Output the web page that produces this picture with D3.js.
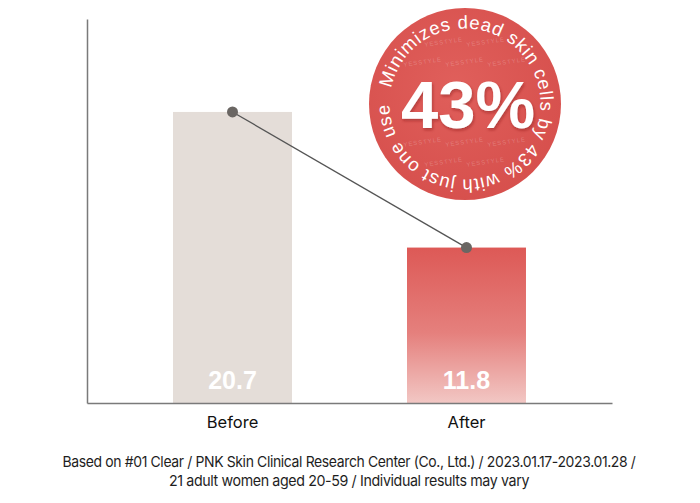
<!DOCTYPE html>
<html>
<head>
<meta charset="utf-8">
<script src="https://cdn.jsdelivr.net/npm/d3@7"></script>
<style>
  html, body { margin: 0; padding: 0; background: #fff; }
  svg { display: block; }
</style>
</head>
<body>
<svg id="chart" width="700" height="503"></svg>
<script>
// ---- data ----
const categories = ["Before", "After"];
const values = [20.7, 11.8];
const valueLabels = ["20.7", "11.8"];
const badgeValue = "43%";
const badgeText = "Minimizes dead skin cells by 43% with just one use";
const footnoteLines = [
  "Based on #01 Clear / PNK Skin Clinical Research Center (Co., Ltd.) / 2023.01.17-2023.01.28 /",
  "21 adult women aged 20-59 / Individual results may vary"
];

// ---- layout ----
const axisLeft = 87, axisRight = 612, axisTop = 19, baseline = 403;

const svg = d3.select("#chart");
const defs = svg.append("defs");

const afterGrad = defs.append("linearGradient").attr("id", "afterGrad")
  .attr("x1", 0).attr("y1", 0).attr("x2", 0).attr("y2", 1);
afterGrad.append("stop").attr("offset", "0%").attr("stop-color", "#dd5956");
afterGrad.append("stop").attr("offset", "55%").attr("stop-color", "#e5807d");
afterGrad.append("stop").attr("offset", "100%").attr("stop-color", "#f2c7c4");

const badgeGrad = defs.append("radialGradient").attr("id", "badgeGrad")
  .attr("cx", "45%").attr("cy", "40%").attr("r", "65%");
badgeGrad.append("stop").attr("offset", "0%").attr("stop-color", "#e05f5b");
badgeGrad.append("stop").attr("offset", "100%").attr("stop-color", "#d64f4c");

const shadow = defs.append("filter").attr("id", "txtShadow")
  .attr("x", "-20%").attr("y", "-20%").attr("width", "140%").attr("height", "140%");
shadow.append("feDropShadow").attr("dx", 1).attr("dy", 2).attr("stdDeviation", 1.5)
  .attr("flood-color", "#7a1f1d").attr("flood-opacity", 0.45);

// scales
const x = d3.scaleBand().domain(categories).range([axisLeft, axisRight])
  .paddingInner(0.4915).paddingOuter(0.3676);
const y = d3.scaleLinear().domain([1.6, 26.8]).range([baseline, axisTop]);

// bars
const barFills = ["#e4ddd8", "url(#afterGrad)"];
svg.selectAll("rect.bar").data(categories).join("rect")
  .attr("class", "bar")
  .attr("x", d => x(d))
  .attr("width", x.bandwidth())
  .attr("y", (d, i) => y(values[i]))
  .attr("height", (d, i) => baseline - y(values[i]))
  .attr("fill", (d, i) => barFills[i]);

// value labels inside bars
svg.selectAll("text.val").data(categories).join("text")
  .attr("class", "val")
  .attr("x", d => x(d) + x.bandwidth() / 2)
  .attr("y", baseline - 14)
  .attr("text-anchor", "middle")
  .attr("font-family", "Liberation Sans, Arial, sans-serif")
  .attr("font-weight", "bold")
  .attr("font-size", 25)
  .attr("fill", "#ffffff")
  .text((d, i) => valueLabels[i]);

// axes (vertical + baseline)
const yAxis = d3.axisLeft(y).tickValues([]).tickSizeOuter(0);
svg.append("g").attr("transform", `translate(${axisLeft},0)`).call(yAxis)
  .call(g => g.select(".domain").attr("stroke", "#7a7a7a").attr("stroke-width", 1.5));
const xAxis = d3.axisBottom(x).tickSize(0).tickSizeOuter(0);
const xg = svg.append("g").attr("transform", `translate(0,${baseline})`).call(xAxis);
xg.select(".domain").attr("stroke", "#7a7a7a").attr("stroke-width", 1.5);
xg.selectAll("text")
  .attr("dy", null)
  .attr("y", 25)
  .attr("font-family", "Inter, Roboto, sans-serif")
  .attr("font-size", 16.5)
  .attr("fill", "#111");

// connecting line + points
const pts = categories.map((c, i) => [x(c) + x.bandwidth() / 2, y(values[i])]);
svg.append("path")
  .attr("d", d3.line()(pts))
  .attr("fill", "none")
  .attr("stroke", "#555")
  .attr("stroke-width", 1.3);
svg.selectAll("circle.pt").data(pts).join("circle")
  .attr("class", "pt")
  .attr("cx", d => d[0]).attr("cy", d => d[1])
  .attr("r", 5.5)
  .attr("fill", "#6a6663");

// badge
const bcx = 465, bcy = 104, br = 96;
const badge = svg.append("g");
badge.append("circle").attr("cx", bcx).attr("cy", bcy).attr("r", br)
  .attr("fill", "url(#badgeGrad)");

// faint watermark pattern inside badge (kept clear of the big number)
const wm = [];
for (let row = -4; row <= 4; row++) {
  for (let col = -3; col <= 3; col++) {
    const px = bcx + col * 42 + (row % 2 ? 21 : 0);
    const py = bcy + row * 20;
    const inNumber = Math.abs(px - bcx) < 90 && Math.abs(py - bcy) < 36;
    if (Math.hypot(px - bcx, py - bcy) < br - 30 && !inNumber) wm.push([px, py]);
  }
}
badge.selectAll("text.wm").data(wm).join("text")
  .attr("class", "wm")
  .attr("x", d => d[0]).attr("y", d => d[1])
  .attr("text-anchor", "middle")
  .attr("font-family", "Liberation Sans, Arial, sans-serif")
  .attr("font-size", 6)
  .attr("letter-spacing", 1)
  .attr("fill", "#ffffff")
  .attr("fill-opacity", 0.22)
  .attr("transform", d => `rotate(-8,${d[0]},${d[1]})`)
  .text("YESSTYLE");

// circular text, one glyph at a time along the ring
const tr = 75.5;
const startDeg = 282;
const arcLen = 458;
const chars = Array.from(badgeText);
const ring = badge.append("g")
  .attr("font-family", "Liberation Sans, Arial, sans-serif")
  .attr("font-size", 18.5)
  .attr("fill", "#ffffff");
const glyphs = ring.selectAll("text").data(chars).join("text")
  .attr("text-anchor", "middle")
  .text(d => d === " " ? "\u00a0" : d);
const widths = glyphs.nodes().map(n => n.getComputedTextLength());
const natural = d3.sum(widths);
const gap = (arcLen - natural) / (chars.length - 1);
let acc = 0;
const centers = widths.map(w => { const c = acc + w / 2; acc += w + gap; return c; });
glyphs.attr("transform", (d, i) => {
  const th = startDeg * Math.PI / 180 + centers[i] / tr;
  const px = bcx + tr * Math.sin(th), py = bcy - tr * Math.cos(th);
  return `translate(${px},${py}) rotate(${th * 180 / Math.PI})`;
});

badge.append("text")
  .attr("x", bcx + 3).attr("y", bcy + 24)
  .attr("text-anchor", "middle")
  .attr("font-family", "Liberation Sans, Arial, sans-serif")
  .attr("font-weight", "bold")
  .attr("font-size", 67)
  .attr("fill", "#ffffff")
  .attr("filter", "url(#txtShadow)")
  .text(badgeValue);

// footnote
const fnWidths = [573, 360];
svg.selectAll("text.fn").data(footnoteLines).join("text")
  .attr("class", "fn")
  .attr("x", 349)
  .attr("y", (d, i) => 467 + i * 19)
  .attr("text-anchor", "middle")
  .attr("font-family", "Inter, Roboto, sans-serif")
  .attr("font-size", 15)
  .attr("letter-spacing", -0.4)
  .attr("fill", "#1e1e1e")
  .attr("textLength", (d, i) => fnWidths[i])
  .attr("lengthAdjust", "spacingAndGlyphs")
  .text(d => d);
</script>
</body>
</html>
